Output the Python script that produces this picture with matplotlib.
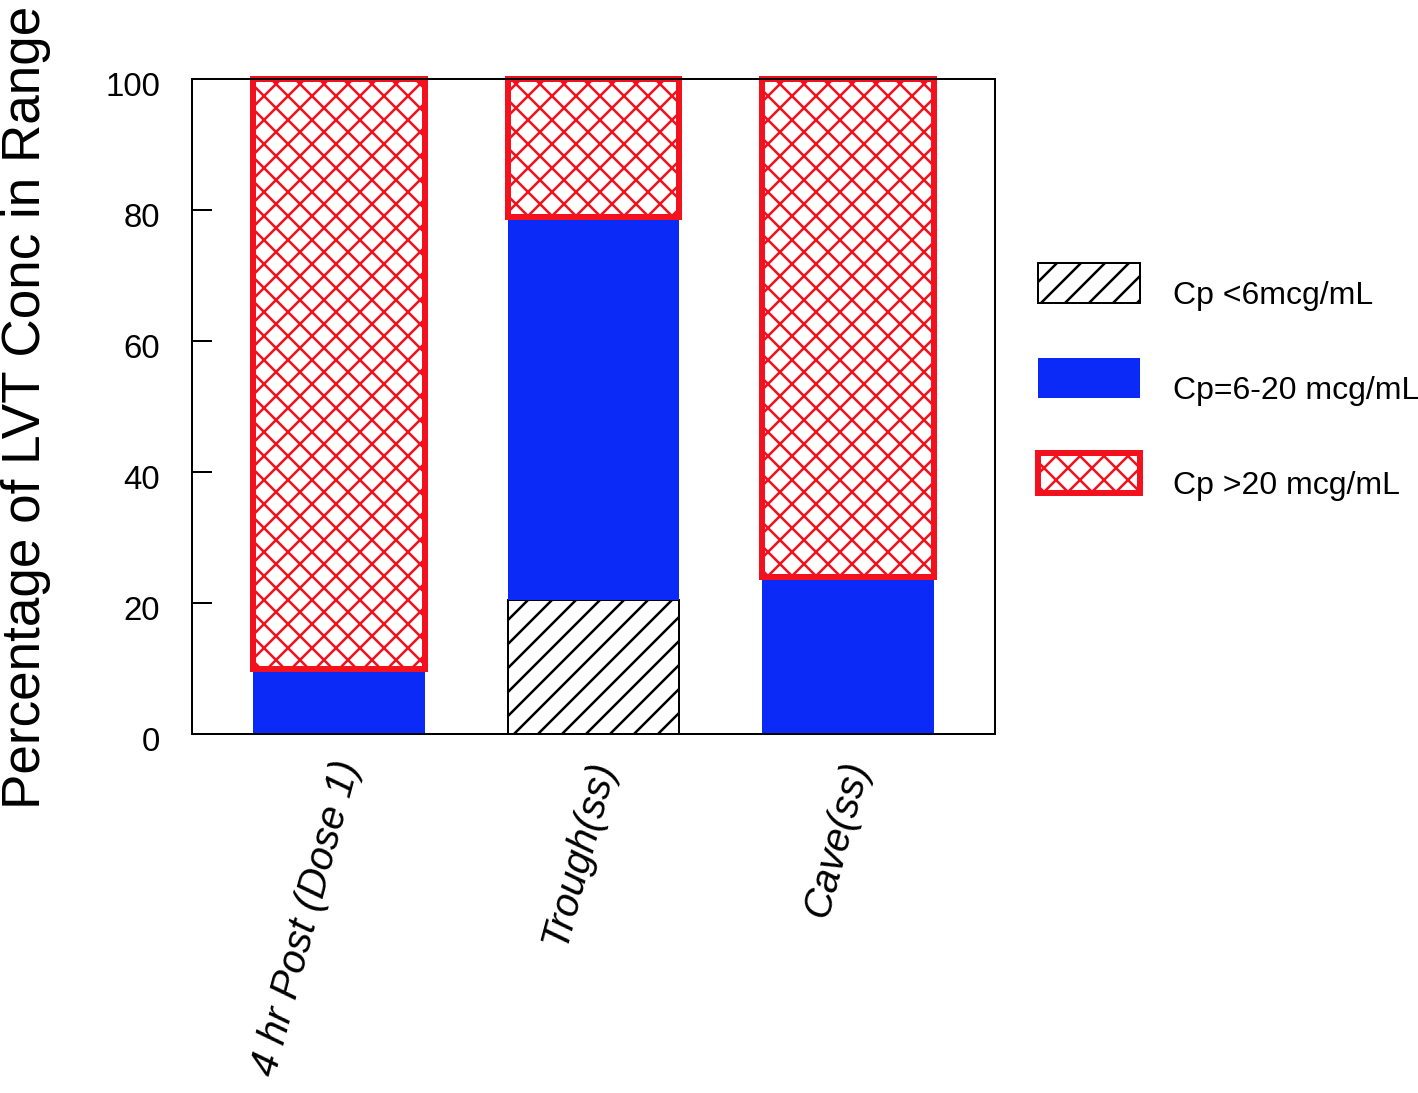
import matplotlib
matplotlib.use('Agg')
import matplotlib.pyplot as plt
import matplotlib.transforms as mtransforms
import numpy as np

plt.rcParams['font.family'] = ['Liberation Sans', 'DejaVu Sans']
plt.rcParams['hatch.linewidth'] = 2.5

categories = ['4 hr Post (Dose 1)', 'Trough(ss)', 'Cave(ss)']
low_vals = [0, 20.5, 0]        # Cp <6mcg/mL
mid_vals = [10, 58.5, 24]      # Cp=6-20 mcg/mL
high_vals = [90, 21, 76]       # Cp >20 mcg/mL
labels = ['Cp <6mcg/mL', 'Cp=6-20 mcg/mL', 'Cp >20 mcg/mL']

blue = '#0B2AF7'
red = '#F3111D'

dpi = 72
fig = plt.figure(figsize=(1418 / dpi, 1093 / dpi), dpi=dpi)
ax = fig.add_axes([192 / 1418, 1 - 734 / 1093, 803 / 1418, 655 / 1093])

x = np.arange(len(categories))
w = 0.676
low = np.array(low_vals)
mid = np.array(mid_vals)
high = np.array(high_vals)

b1 = ax.bar(x, low, w, color='white', edgecolor='black', hatch='/', linewidth=2)
b2 = ax.bar(x, mid, w, bottom=low, color=blue, linewidth=0)
b3 = ax.bar(x, high, w, bottom=low + mid, color='white', edgecolor=red, hatch='x',
            linewidth=6)
for r in list(b1) + list(b2) + list(b3):
    r.set_clip_on(False)
# no outline for empty segments
for r, v in zip(b1, low):
    if v == 0:
        r.set_visible(False)

ax.set_xlim(-0.578, 2.578)
ax.set_ylim(0, 100)
ax.set_yticks(np.arange(0, 101, 20))
ax.tick_params(axis='y', direction='in', length=20, width=2, pad=32, labelsize=33)
ax.set_xticks(x)
ax.set_xticklabels(categories, rotation=75, ha='right', va='center',
                   rotation_mode='anchor', fontsize=40, style='italic')
ax.tick_params(axis='x', length=0, pad=27)
for s in ax.spines.values():
    s.set_linewidth(2)

# nudge tick labels like the original
for lab in ax.get_xticklabels():
    lab.set_transform(lab.get_transform() + mtransforms.ScaledTranslation(10 / 72, 0, fig.dpi_scale_trans))
for lab in ax.get_yticklabels():
    lab.set_transform(lab.get_transform() + mtransforms.ScaledTranslation(0, -5 / 72, fig.dpi_scale_trans))

fig.text(26 / 1418, 1 - 407 / 1093, 'Percentage of LVT Conc in Range', rotation=90,
         ha='center', va='center', fontsize=53)

leg = ax.legend(handles=[b1[1], b2[1], b3[1]], labels=labels, loc='upper left',
                bbox_to_anchor=(1038 / 1418, 1 - 263 / 1093), bbox_transform=fig.transFigure,
                frameon=False, fontsize=32, borderpad=0, borderaxespad=0,
                handlelength=3.19, handleheight=1.546, handletextpad=1.03, labelspacing=1.72)
# legend text sits a little below its swatch in the original
for t in leg.get_texts():
    t.set_y(-10)

fig.savefig('out.png', dpi=dpi)
